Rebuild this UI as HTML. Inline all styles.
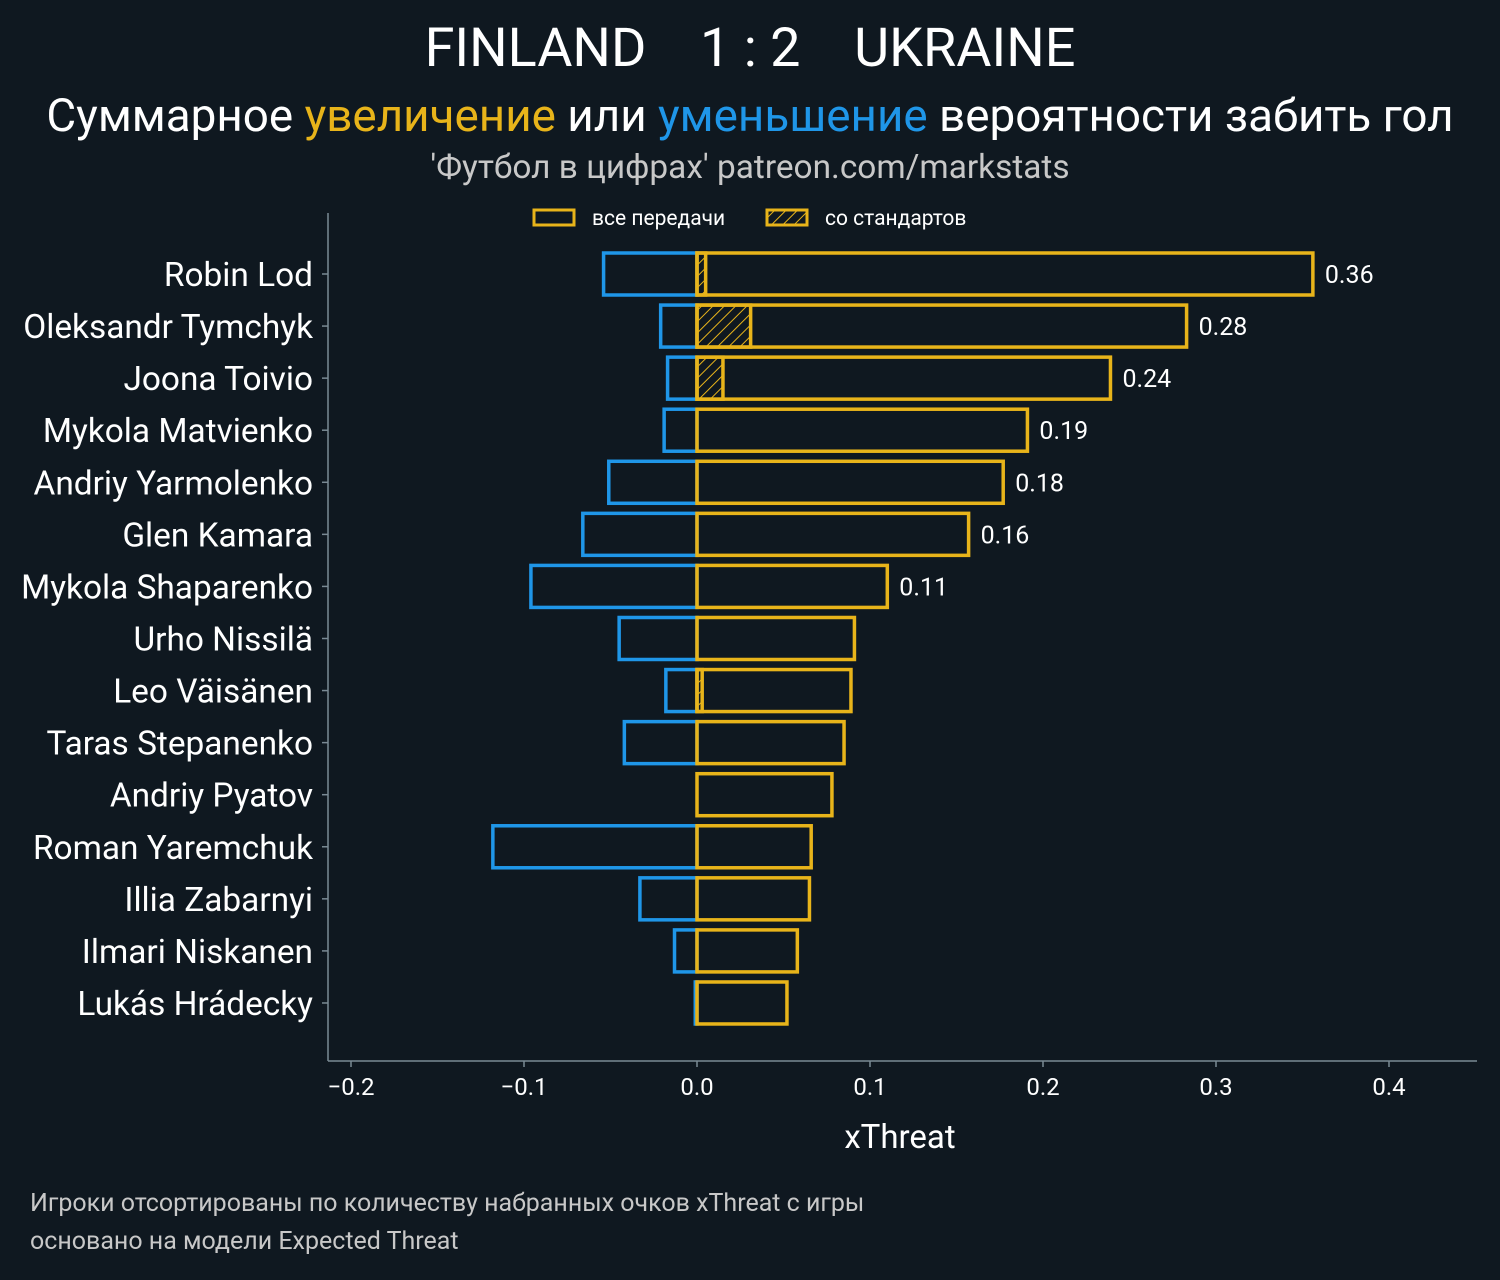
<!DOCTYPE html>
<html><head><meta charset="utf-8"><style>
body{margin:0;background:#0f1820;}
svg text{font-family:"Roboto","Liberation Sans","DejaVu Sans",sans-serif;}
</style></head><body>
<svg id="c" width="1500" height="1275" xmlns="http://www.w3.org/2000/svg">
<defs><pattern id="hatch" width="8" height="8" patternUnits="userSpaceOnUse" patternTransform="rotate(45)"><line x1="0" y1="0" x2="0" y2="8" stroke="#e8b41a" stroke-width="2"/></pattern></defs>
<rect width="1500" height="1275" fill="#0f1820"/>
<text x="750" y="66" text-anchor="middle" font-size="54" fill="#fff" xml:space="preserve">FINLAND    1 : 2    UKRAINE</text>
<text x="750" y="131" text-anchor="middle" font-size="45.8" fill="#fff">Суммарное <tspan fill="#e8b41a">увеличение</tspan> или <tspan fill="#1f96e8">уменьшение</tspan> вероятности забить гол</text>
<text x="750" y="178" text-anchor="middle" font-size="33.4" fill="#c8c8c8">'Футбол в цифрах' patreon.com/markstats</text>
<g>
<rect x="534" y="210" width="40" height="15" fill="none" stroke="#e8b41a" stroke-width="3"/>
<text x="592" y="225" font-size="21" fill="#fff">все передачи</text>
<rect x="767" y="210" width="40" height="15" fill="url(#hatch)" stroke="#e8b41a" stroke-width="3"/>
<text x="825" y="225" font-size="21" fill="#fff">со стандартов</text>
</g>
<g id="plot"></g>
<line x1="328" y1="213" x2="328" y2="1061" stroke="#7a8a94" stroke-width="1.5"/>
<line x1="328" y1="1061" x2="1477" y2="1061" stroke="#7a8a94" stroke-width="1.5"/>
<text x="900" y="1148" text-anchor="middle" font-size="33" fill="#fff">xThreat</text>
<text x="30" y="1211" font-size="25" fill="#c8c8c8">Игроки отсортированы по количеству набранных очков xThreat с игры</text>
<text x="30" y="1249" font-size="25" fill="#c8c8c8">основано на модели Expected Threat</text>
</svg>
<script>
const players=["Robin Lod","Oleksandr Tymchyk","Joona Toivio","Mykola Matvienko","Andriy Yarmolenko","Glen Kamara","Mykola Shaparenko","Urho Nissilä","Leo Väisänen","Taras Stepanenko","Andriy Pyatov","Roman Yaremchuk","Illia Zabarnyi","Ilmari Niskanen","Lukás Hrádecky"];
const positives=[0.356,0.283,0.239,0.191,0.177,0.157,0.110,0.091,0.089,0.085,0.078,0.066,0.065,0.058,0.052];
const negatives=[-0.054,-0.021,-0.017,-0.019,-0.051,-0.066,-0.096,-0.045,-0.018,-0.042,0,-0.118,-0.033,-0.013,-0.001];
const setPieces=[0.005,0.031,0.015,0,0,0,0,0,0.003,0,0,0,0,0,0];
const printedValues=["0.36","0.28","0.24","0.19","0.18","0.16","0.11","","","","","","","",""];
const xTicks=[-0.2,-0.1,0.0,0.1,0.2,0.3,0.4];
const xTickLabels=["−0.2","−0.1","0.0","0.1","0.2","0.3","0.4"];
const NS="http://www.w3.org/2000/svg";
const X=v=>697+v*1730;
const Y=i=>274+i*52.07;
const g=document.getElementById('plot');
function mk(t,a){const e=document.createElementNS(NS,t);for(const k in a)e.setAttribute(k,a[k]);g.appendChild(e);return e;}
const H=42;
players.forEach((p,i)=>{
  const y=Y(i);
  let t=mk('text',{x:313,y:y+12,'text-anchor':'end','font-size':33.4,fill:'#fff'});t.textContent=p;
  
  
  let tk=mk('line',{x1:322,x2:328,y1:y,y2:y,stroke:'#7a8a94','stroke-width':1.5});
  
  
  if(negatives[i]<0){
    let r=mk('rect',{x:X(negatives[i]),y:y-H/2,width:X(0)-X(negatives[i]),height:H,fill:'none',stroke:'#1f96e8','stroke-width':3.5});
    
    
  }
  if(setPieces[i]>0){
    let r=mk('rect',{x:X(0),y:y-H/2,width:X(setPieces[i])-X(0),height:H,fill:'url(#hatch)',stroke:'#e8b41a','stroke-width':3.5});
    
    
  }
  let r=mk('rect',{x:X(0),y:y-H/2,width:X(positives[i])-X(0),height:H,fill:'none',stroke:'#e8b41a','stroke-width':3.5});
  
  
  if(printedValues[i]){
    let v=mk('text',{x:X(positives[i])+12,y:y+9,'font-size':25,fill:'#fff'});v.textContent=printedValues[i];
    
    
  }
});
xTicks.forEach((v,i)=>{
  let l=mk('line',{x1:X(v),x2:X(v),y1:1061,y2:1067,stroke:'#7a8a94','stroke-width':1.5});
  
  
  let t=mk('text',{x:X(v),y:1095,'text-anchor':'middle','font-size':24,fill:'#fff'});t.textContent=xTickLabels[i];
  
  
});
</script>
</body></html>
